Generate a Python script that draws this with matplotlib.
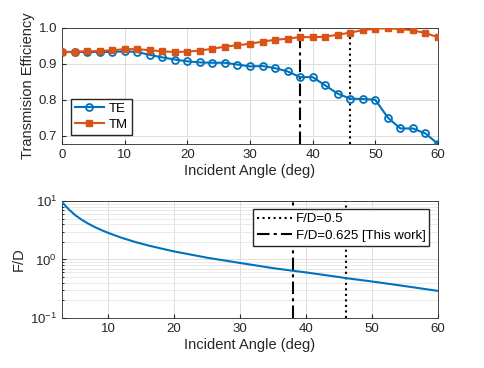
import matplotlib
matplotlib.use('Agg')
import matplotlib.pyplot as plt
import numpy as np

plt.rcParams['font.family'] = ['Liberation Sans', 'DejaVu Sans']

# incident angle (deg) for the simulated points
angle = [0, 2, 4, 6, 8, 10, 12, 14, 16, 18, 20, 22, 24, 26, 28, 30,
         32, 34, 36, 38, 40, 42, 44, 46, 48, 50, 52, 54, 56, 58, 60]
te = [0.933, 0.933, 0.933, 0.933, 0.933, 0.935, 0.933, 0.925, 0.918, 0.912, 0.907,
      0.904, 0.903, 0.903, 0.898, 0.893, 0.894, 0.888, 0.879, 0.863, 0.863,
      0.840, 0.817, 0.803, 0.802, 0.800, 0.750, 0.720, 0.720, 0.706, 0.677]
tm = [0.933, 0.934, 0.935, 0.936, 0.938, 0.941, 0.941, 0.938, 0.935, 0.933, 0.934,
      0.937, 0.942, 0.948, 0.952, 0.956, 0.962, 0.967, 0.970, 0.975, 0.974,
      0.976, 0.981, 0.987, 0.994, 0.998, 0.999, 0.997, 0.993, 0.986, 0.974]

# F/D
fd_angle = [3, 4, 5, 6, 7, 8, 9, 10, 12, 14, 16, 18, 20, 25, 30, 35, 38, 40, 45, 46, 50, 55, 60]
fd = [9.5, 7.2, 5.7, 4.75, 4.07, 3.56, 3.16, 2.84, 2.35, 2.0, 1.74, 1.54, 1.37,
      1.07, 0.87, 0.71, 0.64, 0.60, 0.50, 0.48, 0.42, 0.35, 0.29]

ref_angle = [46, 38]
ref_label = ['F/D=0.5', 'F/D=0.625 [This work]']
ref_style = [':', (0, (6, 2, 1.5, 2))]

c_te = '#0072BD'
c_tm = '#D95319'
fsize = 10.5

fig = plt.figure(figsize=(4.85, 3.68), dpi=100)
ax1 = fig.add_axes([0.128, 0.609, 0.775, 0.315])
ax2 = fig.add_axes([0.128, 0.136, 0.775, 0.318])

ax1.plot(angle, te, '-o', color=c_te, lw=1.5, ms=5, mfc='none', mew=1.3, label='TE', zorder=3)
ax1.plot(angle, tm, '-s', color=c_tm, lw=1.5, ms=4, mew=1.0, label='TM', zorder=3)
for xa, ls in zip(ref_angle, ref_style):
    ax1.axvline(xa, color='k', ls=ls, lw=1.5, zorder=2)
ax1.set_xlim(0, 60)
ax1.set_ylim(0.677, 1.0)
ax1.set_yticks([0.7, 0.8, 0.9, 1.0])
ax1.set_yticklabels(['0.7', '0.8', '0.9', '1.0'])
ax1.set_xticks(range(0, 61, 10))
ax1.set_xlabel('Incident Angle (deg)', fontsize=fsize, color='#262626', labelpad=2)
ax1.set_ylabel('Transmision Efficiency', fontsize=fsize, color='#262626', labelpad=3)
ax1.legend(loc='lower left', fontsize=9.5, handlelength=2.2, borderpad=0.3,
           labelspacing=0.3, handletextpad=0.4, fancybox=False, edgecolor='#262626',
           framealpha=1, bbox_to_anchor=(0.005, 0.02))

ax2.semilogy(fd_angle, fd, '-', color=c_te, lw=1.5, zorder=3)
for xa, ls, lab in zip(ref_angle, ref_style, ref_label):
    ax2.axvline(xa, color='k', ls=ls, lw=1.5, label=lab, zorder=2)
ax2.set_xlim(3, 60)
ax2.set_ylim(0.1, 10)
ax2.set_xticks(range(10, 61, 10))
ax2.set_xlabel('Incident Angle (deg)', fontsize=fsize, color='#262626', labelpad=2)
ax2.set_ylabel('F/D', fontsize=fsize, color='#262626', labelpad=3)
ax2.grid(True, which='minor', axis='y', color='#e6e6e6', lw=0.6)
ax2.legend(loc='upper right', fontsize=9.5, handlelength=2.6, borderpad=0.3,
           labelspacing=0.3, handletextpad=0.3, fancybox=False, edgecolor='#262626',
           framealpha=1, bbox_to_anchor=(0.995, 0.985))

for ax in [ax1, ax2]:
    ax.grid(True, which='major', color='#dddddd', lw=0.7)
    ax.set_axisbelow(True)
    ax.tick_params(direction='in', labelsize=9.5, colors='#262626', length=3)
    ax.tick_params(which='minor', direction='in', length=1.5)
    for s in ax.spines.values():
        s.set_color('#262626')
        s.set_linewidth(0.6)

fig.savefig('out.png', dpi=100)
